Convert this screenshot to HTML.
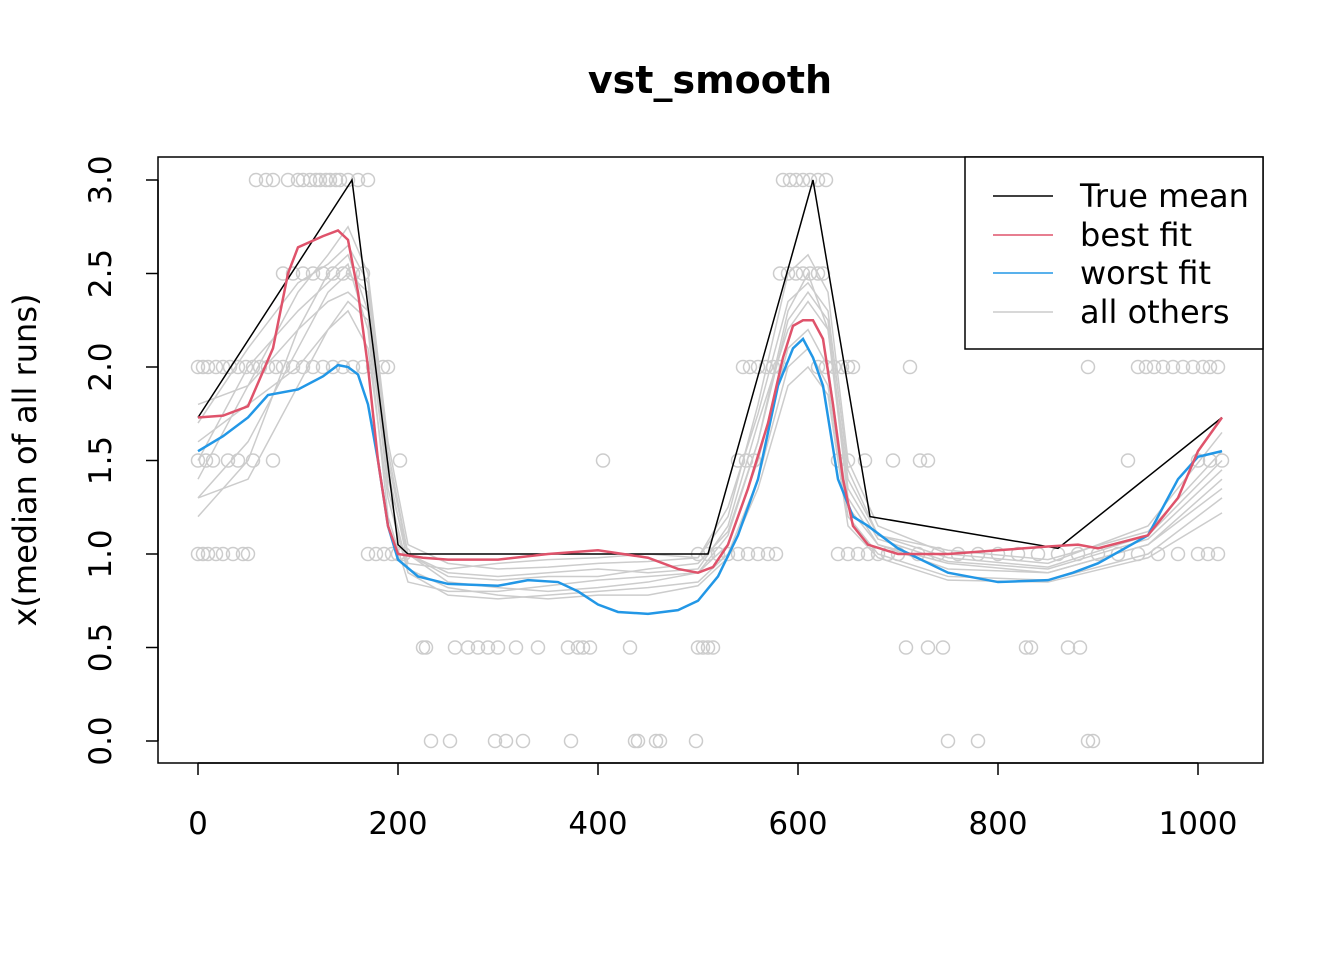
<!DOCTYPE html>
<html><head><meta charset="utf-8"><style>
body{margin:0;background:#fff}
svg{display:block;font-family:"DejaVu Sans","Liberation Sans",sans-serif}
</style></head><body>
<svg id="chart" width="1344" height="960" viewBox="0 0 1344 960">
<rect width="1344" height="960" fill="#fff"/>
<text x="710" y="93" text-anchor="middle" font-size="38" font-weight="bold">vst_smooth</text>
<g id="grayPts"></g>
<g id="grayLines"></g>
<g id="mainLines"></g>
<rect x="158" y="157" width="1105" height="606" fill="none" stroke="#000" stroke-width="1.5"/>
<g id="xaxis"></g>
<g id="yaxis"></g>
<text transform="translate(36,460) rotate(-90)" text-anchor="middle" font-size="32">x(median of all runs)</text>
<g>
<rect x="965" y="157" width="298" height="192" fill="#fff" stroke="#000" stroke-width="1.5"/>
<g><line x1="993" y1="196" x2="1053" y2="196" stroke="#000" stroke-width="1.5"/><text x="1080" y="207" font-size="32">True mean</text></g>
<g><line x1="993" y1="235" x2="1053" y2="235" stroke="#DF536B" stroke-width="1.5"/><text x="1080" y="246" font-size="32">best fit</text></g>
<g><line x1="993" y1="273" x2="1053" y2="273" stroke="#2297E6" stroke-width="1.5"/><text x="1080" y="284" font-size="32">worst fit</text></g>
<g><line x1="993" y1="312" x2="1053" y2="312" stroke="#ccc" stroke-width="1.5"/><text x="1080" y="323" font-size="32">all others</text></g>
</g>
</svg>
<script>
const xTicks=[0,200,400,600,800,1000];
const yTicks=[0,0.5,1,1.5,2,2.5,3];
const yTickLabels=["0.0","0.5","1.0","1.5","2.0","2.5","3.0"];
const trueMean=[[0,1.73],[154,3.0],[200,1.05],[210,1.0],[510,1.0],[615,3.0],[672,1.2],[860,1.03],[1024,1.73]];
const bestFit=[[0,1.73],[25,1.74],[50,1.79],[75,2.1],[90,2.5],[100,2.64],[125,2.7],[140,2.73],[150,2.68],[160,2.4],[170,2.0],[180,1.5],[190,1.15],[200,1.0],[225,0.98],[250,0.97],[300,0.97],[350,1.0],[400,1.02],[450,0.98],[480,0.92],[500,0.9],[515,0.93],[530,1.05],[550,1.35],[570,1.7],[585,2.05],[595,2.22],[605,2.25],[615,2.25],[625,2.15],[635,1.8],[645,1.4],[655,1.15],[670,1.05],[700,1.0],[750,1.0],[800,1.02],[850,1.04],[880,1.05],[900,1.03],[950,1.1],[980,1.3],[1000,1.55],[1024,1.73]];
const worstFit=[[0,1.55],[25,1.63],[50,1.73],[70,1.85],[100,1.88],[125,1.95],[140,2.01],[150,2.0],[160,1.96],[170,1.8],[180,1.5],[190,1.15],[200,0.97],[220,0.88],[250,0.84],[300,0.83],[330,0.86],[360,0.85],[380,0.8],[400,0.73],[420,0.69],[450,0.68],[480,0.7],[500,0.75],[520,0.88],[540,1.1],[560,1.4],[580,1.9],[595,2.1],[605,2.15],[615,2.05],[625,1.9],[640,1.4],[655,1.2],[670,1.15],[700,1.03],[750,0.9],[800,0.85],[850,0.86],[875,0.9],[900,0.95],[950,1.1],[980,1.4],[1000,1.52],[1024,1.55]];
const grayX=[0,50,100,130,150,170,190,210,250,300,350,400,450,500,530,560,590,610,630,650,680,750,850,950,1024];
const gray1=[1.2,1.5,2.2,2.5,2.6,2.3,1.4,1.0,0.85,0.82,0.8,0.82,0.85,0.9,1.1,1.6,2.3,2.5,2.2,1.3,1.05,0.95,0.9,1.05,1.4];
const gray2=[1.4,1.9,2.4,2.6,2.75,2.5,1.6,1.05,0.95,0.92,0.93,0.95,0.96,0.98,1.2,1.8,2.5,2.6,2.4,1.5,1.15,1.0,0.95,1.15,1.65];
const gray3=[1.6,1.8,2.0,2.2,2.3,2.1,1.3,0.9,0.78,0.76,0.78,0.8,0.82,0.85,1.0,1.4,2.0,2.1,1.9,1.2,1.0,0.88,0.86,1.0,1.3];
const gray4=[1.3,1.6,2.1,2.4,2.5,2.4,1.5,1.0,0.9,0.88,0.9,0.92,0.9,0.92,1.15,1.7,2.2,2.35,2.2,1.4,1.1,0.98,0.93,1.1,1.5];
const gray5=[1.5,2.0,2.3,2.45,2.55,2.2,1.2,0.85,0.8,0.8,0.83,0.86,0.88,0.9,1.05,1.5,2.1,2.2,2.0,1.25,1.05,0.92,0.9,1.05,1.35];
const gray6=[1.8,1.9,2.2,2.35,2.4,2.3,1.45,0.95,0.92,0.95,0.97,0.98,1.0,0.98,1.25,1.75,2.35,2.45,2.3,1.45,1.1,1.02,0.97,1.12,1.55];
const gray7=[1.3,1.4,1.9,2.2,2.35,2.25,1.35,0.92,0.82,0.78,0.76,0.78,0.78,0.83,0.98,1.35,1.9,2.0,1.85,1.15,0.98,0.86,0.85,0.98,1.22];
const gray8=[1.7,2.1,2.45,2.55,2.65,2.45,1.55,1.0,0.88,0.86,0.88,0.88,0.92,0.95,1.12,1.6,2.25,2.4,2.25,1.35,1.08,0.96,0.92,1.08,1.45];
const grayRuns=[gray1,gray2,gray3,gray4,gray5,gray6,gray7,gray8];
const ptsLevels=[3,2.5,2,1.5,1,0.5,0];
const pts3=[58,68,75,90,100,105,112,118,122,128,132,138,142,150,160,170,585,592,598,605,612,620,628];
const pts25=[85,95,105,115,125,135,145,155,165,582,590,598,605,612,620,625];
const pts2=[0,5,10,18,25,32,40,48,55,62,70,78,85,95,105,115,125,135,145,155,165,175,185,190,545,552,560,568,575,582,620,628,636,644,650,655,712,890,940,948,956,965,975,985,995,1005,1012,1020];
const pts15=[0,8,15,30,40,55,75,202,405,540,548,556,640,650,667,695,722,730,930,1000,1012,1024];
const pts1=[0,5,10,18,25,35,45,50,170,178,186,194,200,206,500,510,520,530,540,550,560,570,578,640,650,660,670,680,690,700,720,740,760,780,800,820,840,860,880,900,920,940,960,980,1000,1010,1020];
const pts05=[225,228,257,270,280,290,300,318,340,370,380,385,392,432,500,505,510,515,708,730,745,828,833,870,882];
const pts0=[233,252,297,308,325,373,437,440,458,462,498,750,780,890,895];
const ptsByLevel=[pts3,pts25,pts2,pts15,pts1,pts05,pts0];

const NS="http://www.w3.org/2000/svg";
const sx=v=>198+v*1.0;
const sy=v=>741-v*187;
function mk(tag,attrs,parent){const e=document.createElementNS(NS,tag);for(const k in attrs)e.setAttribute(k,attrs[k]);parent.appendChild(e);return e;}
const gp=document.getElementById('grayPts');
ptsLevels.forEach((lv,i)=>{ptsByLevel[i].forEach(x=>{
 const c=mk('circle',{cx:sx(x),cy:sy(lv),r:6.5,fill:'none',stroke:'#cccccc','stroke-width':1.5},gp);
 
 
});});
const gl=document.getElementById('grayLines');
grayRuns.forEach(run=>{
 const p=mk('polyline',{points:run.map((v,i)=>sx(grayX[i])+','+sy(v)).join(' '),fill:'none',stroke:'#cccccc','stroke-width':1.5},gl);
 
 
});
const ml=document.getElementById('mainLines');
const t=mk('polyline',{points:trueMean.map(d=>sx(d[0])+','+sy(d[1])).join(' '),fill:'none',stroke:'#000','stroke-width':1.5},ml);


const w=mk('polyline',{points:worstFit.map(d=>sx(d[0])+','+sy(d[1])).join(' '),fill:'none',stroke:'#2297E6','stroke-width':2.5},ml);


const b=mk('polyline',{points:bestFit.map(d=>sx(d[0])+','+sy(d[1])).join(' '),fill:'none',stroke:'#DF536B','stroke-width':2.5},ml);


const xa=document.getElementById('xaxis');
mk('line',{x1:sx(xTicks[0]),y1:763,x2:sx(xTicks[xTicks.length-1]),y2:763,stroke:'#000','stroke-width':1.5},xa);
xTicks.forEach(v=>{
 mk('line',{x1:sx(v),y1:763,x2:sx(v),y2:775,stroke:'#000','stroke-width':1.5},xa);
 const tx=mk('text',{x:sx(v),y:834,'text-anchor':'middle','font-size':31},xa);
 tx.textContent=v;
 
 
});
const ya=document.getElementById('yaxis');
mk('line',{x1:158,y1:sy(yTicks[0]),x2:158,y2:sy(yTicks[yTicks.length-1]),stroke:'#000','stroke-width':1.5},ya);
yTicks.forEach((v,i)=>{
 mk('line',{x1:146,y1:sy(v),x2:158,y2:sy(v),stroke:'#000','stroke-width':1.5},ya);
 const tx=mk('text',{transform:'translate(111,'+sy(v)+') rotate(-90)','text-anchor':'middle','font-size':31},ya);
 tx.textContent=yTickLabels[i];
 
 
});
</script>
</body></html>
